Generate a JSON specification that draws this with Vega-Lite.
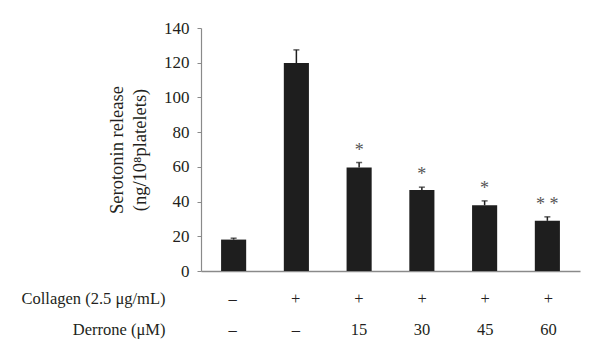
{
  "$schema": "https://vega.github.io/schema/vega-lite/v6.json",
  "padding": {"left": 20, "top": 19, "right": 5, "bottom": 5},
  "background": "white",
  "spacing": 4,
  "config": {
    "font": "Liberation Serif",
    "view": {"stroke": null},
    "axis": {
      "labelFont": "Liberation Serif",
      "titleFont": "Liberation Serif",
      "labelFontSize": 17,
      "titleFontSize": 18.5,
      "labelColor": "#231f20",
      "titleColor": "#231f20",
      "domainColor": "#8a8a8a",
      "tickColor": "#8a8a8a",
      "titleFontWeight": "normal",
      "labelOverlap": false,
      "grid": false
    }
  },
  "datasets": {
    "main": [
      {"cat": "c1", "value": 18.1, "upper": 18.9, "sig": ""},
      {"cat": "c2", "value": 119.8, "upper": 127.4, "sig": ""},
      {"cat": "c3", "value": 59.7, "upper": 62.5, "sig": "*"},
      {"cat": "c4", "value": 46.6, "upper": 48.3, "sig": "*"},
      {"cat": "c5", "value": 37.9, "upper": 40.4, "sig": "*"},
      {"cat": "c6", "value": 28.9, "upper": 31.2, "sig": "* *"}
    ],
    "table": [
      {"cat": "c1", "row": "Collagen (2.5 μg/mL)", "val": "–"},
      {"cat": "c2", "row": "Collagen (2.5 μg/mL)", "val": "+"},
      {"cat": "c3", "row": "Collagen (2.5 μg/mL)", "val": "+"},
      {"cat": "c4", "row": "Collagen (2.5 μg/mL)", "val": "+"},
      {"cat": "c5", "row": "Collagen (2.5 μg/mL)", "val": "+"},
      {"cat": "c6", "row": "Collagen (2.5 μg/mL)", "val": "+"},
      {"cat": "c1", "row": "Derrone (μM)", "val": "–"},
      {"cat": "c2", "row": "Derrone (μM)", "val": "–"},
      {"cat": "c3", "row": "Derrone (μM)", "val": "15"},
      {"cat": "c4", "row": "Derrone (μM)", "val": "30"},
      {"cat": "c5", "row": "Derrone (μM)", "val": "45"},
      {"cat": "c6", "row": "Derrone (μM)", "val": "60"}
    ]
  },
  "vconcat": [
    {
      "width": 379,
      "height": 243,
      "data": {"name": "main"},
      "encoding": {
        "x": {
          "field": "cat",
          "type": "nominal",
          "sort": null,
          "scale": {"paddingInner": 0.6, "paddingOuter": 0.32},
          "axis": {"labels": false, "ticks": false, "title": null, "domainWidth": 1.5}
        }
      },
      "layer": [
        {
          "mark": {"type": "bar", "color": "#1e1e1e"},
          "encoding": {
            "y": {
              "field": "value",
              "type": "quantitative",
              "scale": {"domain": [0, 140], "nice": false},
              "axis": {
                "values": [0, 20, 40, 60, 80, 100, 120, 140],
                "title": ["Serotonin release", "(ng/10⁸platelets)"],
                "titleLineHeight": 23,
                "titlePadding": 14,
                "tickSize": 4,
                "labelPadding": 8,
                "domainWidth": 1.2
              }
            }
          }
        },
        {
          "mark": {"type": "rule", "color": "#1e1e1e", "strokeWidth": 1.5},
          "encoding": {
            "y": {
              "field": "value",
              "type": "quantitative",
              "axis": {
                "values": [0, 20, 40, 60, 80, 100, 120, 140],
                "title": ["Serotonin release", "(ng/10⁸platelets)"],
                "titleLineHeight": 23,
                "titlePadding": 14,
                "tickSize": 4,
                "labelPadding": 8,
                "domainWidth": 1.2
              }
            },
            "y2": {"field": "upper"}
          }
        },
        {
          "mark": {"type": "tick", "color": "#1e1e1e", "thickness": 1.5, "size": 6},
          "encoding": {
            "y": {
              "field": "upper",
              "type": "quantitative",
              "axis": {
                "values": [0, 20, 40, 60, 80, 100, 120, 140],
                "title": ["Serotonin release", "(ng/10⁸platelets)"],
                "titleLineHeight": 23,
                "titlePadding": 14,
                "tickSize": 4,
                "labelPadding": 8,
                "domainWidth": 1.2
              }
            }
          }
        },
        {
          "mark": {"type": "text", "baseline": "bottom", "dy": -3, "fontSize": 18, "color": "#555555"},
          "encoding": {
            "y": {
              "field": "upper",
              "type": "quantitative",
              "axis": {
                "values": [0, 20, 40, 60, 80, 100, 120, 140],
                "title": ["Serotonin release", "(ng/10⁸platelets)"],
                "titleLineHeight": 23,
                "titlePadding": 14,
                "tickSize": 4,
                "labelPadding": 8,
                "domainWidth": 1.2
              }
            },
            "text": {"field": "sig"}
          }
        }
      ]
    },
    {
      "width": 379,
      "height": 62,
      "data": {"name": "table"},
      "mark": {"type": "text", "fontSize": 16.5, "color": "#231f20"},
      "encoding": {
        "x": {
          "field": "cat",
          "type": "nominal",
          "sort": null,
          "scale": {"paddingInner": 0.6, "paddingOuter": 0.32},
          "axis": null
        },
        "y": {
          "field": "row",
          "type": "nominal",
          "sort": null,
          "axis": {"title": null, "domain": false, "ticks": false, "labelPadding": 36, "labelFontSize": 16.5}
        },
        "text": {"field": "val"}
      }
    }
  ]
}
